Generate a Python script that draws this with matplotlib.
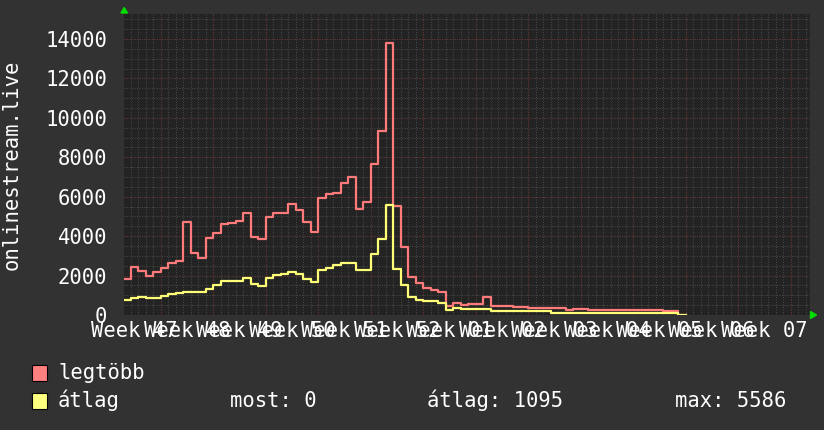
import matplotlib
matplotlib.use("Agg")
import matplotlib.pyplot as plt
from matplotlib.patches import Rectangle, Polygon

W, H = 824, 430

# daily values; the first one belongs to the partial day left of the first grid line
days = list(range(-1, 74))

legtobb = [1840, 2450, 2250, 1980, 2200, 2390, 2650, 2760, 4730, 3130,
           2910, 3900, 4140, 4600, 4650, 4770, 5190, 3970, 3870, 4990,
           5190, 5190, 5650, 5310, 4720, 4210, 5950, 6140, 6170, 6710,
           7020, 5380, 5720, 7680, 9320, 13820, 5550, 3470, 1910, 1600,
           1350, 1260, 1190, 440, 590, 520, 540, 540, 900, 440,
           480, 480, 420, 420, 340, 340, 340, 340, 340, 230,
           290, 290, 260, 260, 260, 260, 260, 260, 260, 260,
           260, 260, 180, 220, 0]

atlag = [780, 850, 900, 850, 840, 970, 1050, 1120, 1170, 1180,
         1180, 1330, 1500, 1720, 1730, 1700, 1860, 1570, 1490, 1900,
         2050, 2090, 2180, 2090, 1840, 1680, 2300, 2390, 2550, 2630,
         2650, 2290, 2290, 3100, 3870, 5586, 2330, 1500, 930, 770,
         730, 700, 620, 240, 340, 300, 300, 300, 290, 180,
         180, 180, 180, 180, 180, 180, 180, 100, 100, 100,
         100, 100, 100, 100, 100, 100, 100, 100, 100, 100,
         100, 100, 100, 100, 0]

week_labels = ["Week 47", "Week 48", "Week 49", "Week 50", "Week 51",
               "Week 52", "Week 01", "Week 02", "Week 03", "Week 04",
               "Week 05", "Week 06", "Week 07"]
y_ticks = [0, 2000, 4000, 6000, 8000, 10000, 12000, 14000]

legend_stats = ["most: 0", "átlag: 1095", "max: 5586"]

BG = "#323232"
CANVAS = "#232323"
RED = "#ff7a7a"
YELLOW = "#ffff77"
FONT = "DejaVu Sans Mono"
FS = 14.8

plt.rcParams["font.family"] = FONT


def fx(px):
    return px / W


def fy(py):
    return 1 - py / H


fig = plt.figure(figsize=(W / 100, H / 100), dpi=100, facecolor=BG)
ax = fig.add_axes([fx(124), fy(315), fx(810) - fx(124), fy(14) - fy(315)])
ax.set_facecolor(CANVAS)

xmin, xmax = -0.9, 90.6
ymax = 15270
ax.set_xlim(xmin, xmax)
ax.set_ylim(0, ymax)

# grid: minor every day / 500, major every week / 2000
minor_x = list(range(0, 91))
major_x = list(range(4, 91, 7))
ax.vlines(minor_x, 0, ymax, colors="#484848", linestyles=(0, (1, 1.5)), linewidth=0.72, zorder=1)
ax.hlines(list(range(500, 15001, 500)), xmin, xmax, colors="#484848",
          linestyles=(0, (1, 1.5)), linewidth=0.72, zorder=1)
ax.vlines(major_x, 0, ymax, colors="#6a3232", linestyles=(0, (1, 1.5)), linewidth=0.72, zorder=2)
ax.hlines(y_ticks[1:], xmin, xmax, colors="#6a3232", linestyles=(0, (1, 1.5)),
          linewidth=0.72, zorder=2)

xs = days + [days[-1] + 1]
ax.plot(xs, legtobb + [legtobb[-1]], drawstyle="steps-post", color=RED, lw=1.6, zorder=3)
ax.plot(xs, atlag + [atlag[-1]], drawstyle="steps-post", color=YELLOW, lw=1.6, zorder=4)

for s in ax.spines.values():
    s.set_visible(False)

ax.set_yticks(y_ticks)
ax.set_yticklabels([str(v) for v in y_ticks])
ax.set_xticks([0.5 + 7 * i for i in range(len(week_labels))])
ax.set_xticklabels(week_labels)
ax.tick_params(axis="both", length=0, colors="white", labelsize=FS)
ax.tick_params(axis="y", pad=12)
ax.tick_params(axis="x", pad=4)

fig.text(fx(11.5), fy(165), "onlinestream.live", rotation=90, color="white",
         fontsize=FS, ha="center", va="center")

# green arrows at the axis ends
fig.add_artist(Polygon([(fx(121), fy(13)), (fx(127.5), fy(13)), (fx(124.2), fy(7.5))],
                       closed=True, color="#00dd00", transform=fig.transFigure))
fig.add_artist(Polygon([(fx(810.5), fy(311.5)), (fx(810.5), fy(318.5)), (fx(816.5), fy(315))],
                       closed=True, color="#00dd00", transform=fig.transFigure))

# legend
for py, col in [(365, "#ff8080"), (393, "#ffff80")]:
    fig.add_artist(Rectangle((fx(32), fy(py + 16)), fx(15), fy(0) - fy(16),
                             facecolor=col, edgecolor="black", lw=0.8,
                             transform=fig.transFigure))
fig.text(fx(58), fy(379), "legtöbb", color="white", fontsize=FS, va="baseline")
fig.text(fx(58), fy(407), "átlag", color="white", fontsize=FS, va="baseline")
for px, txt in zip([230, 427, 675], legend_stats):
    fig.text(fx(px), fy(407), txt, color="white", fontsize=FS, va="baseline")

fig.savefig("out.png", dpi=100, facecolor=BG)
